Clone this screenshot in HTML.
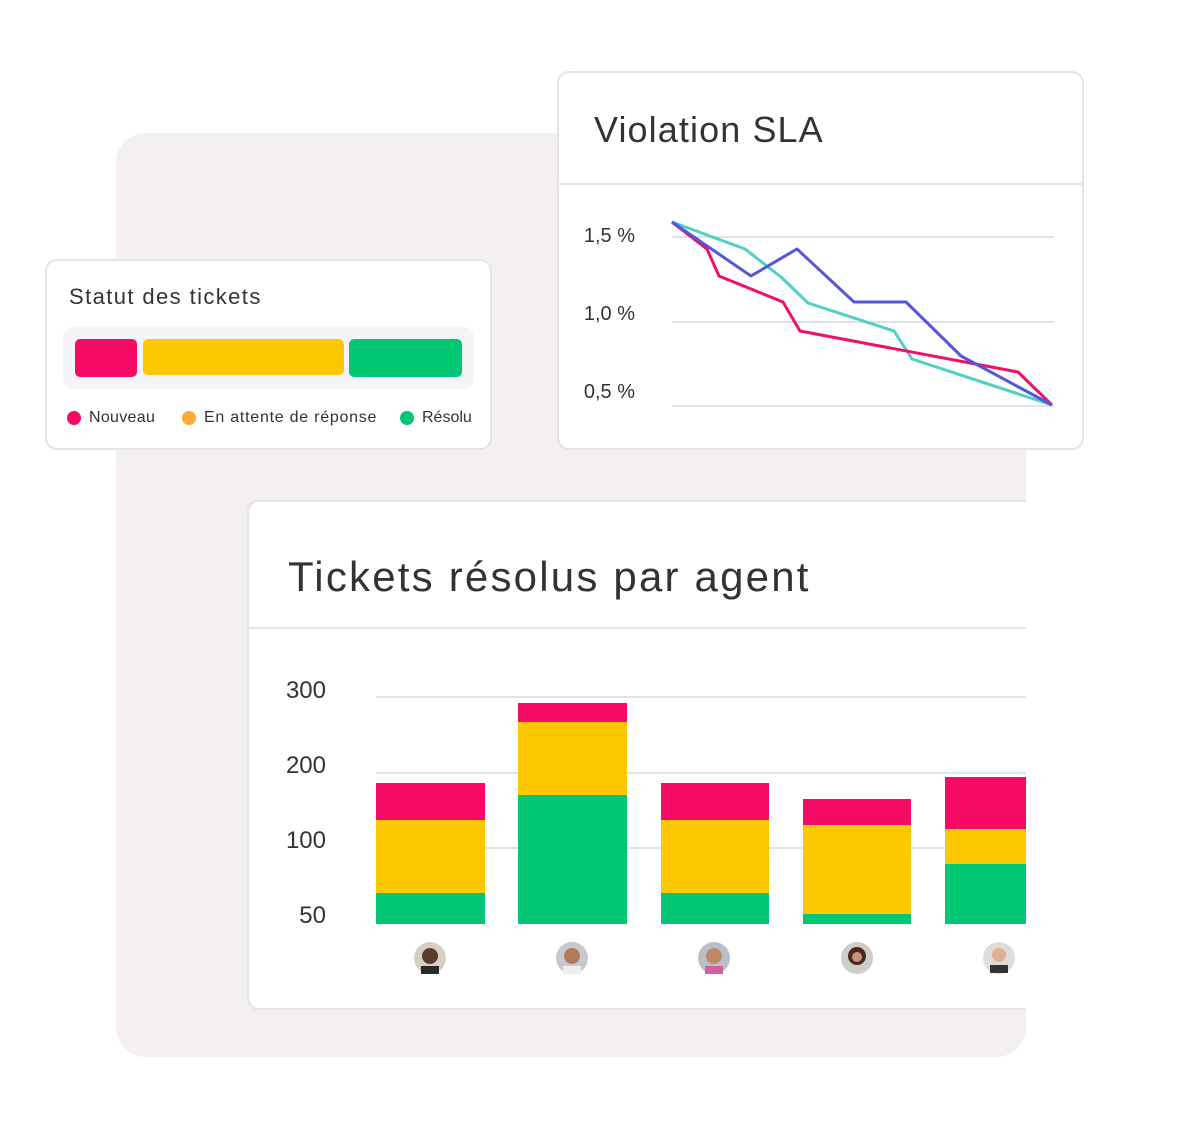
<!DOCTYPE html>
<html><head><style>
body{margin:0;width:1190px;height:1130px;background:#fff;position:relative;font-family:"Liberation Sans",sans-serif;color:#333;overflow:hidden}
.abs{position:absolute}
.card{position:absolute;background:#fff;border:2px solid #e2e3ec;border-radius:12px;box-sizing:border-box}
</style></head><body>
<div class="abs" style="left:116px;top:133px;width:910px;height:924px;background:#f4eff1;border-radius:30px"></div>

<div class="card" style="left:557px;top:71px;width:527px;height:379px">
 <div class="abs" style="left:35px;top:36px;font-size:36px;color:#333;letter-spacing:1.1px">Violation SLA</div>
 <div class="abs" style="left:0;top:110px;width:523px;height:2px;background:#e2e3ec"></div>
</div>
<svg class="abs" style="left:0;top:0" width="1190" height="1130">
 <g stroke="#e0e1ec" stroke-width="2"><line x1="672" y1="237" x2="1054" y2="237"/><line x1="672" y1="322" x2="1054" y2="322"/><line x1="672" y1="406" x2="1054" y2="406"/></g>
 <g font-size="20" fill="#333" text-anchor="end" font-family="Liberation Sans,sans-serif"><text x="635" y="242">1,5 %</text><text x="635" y="320">1,0 %</text><text x="635" y="398">0,5 %</text></g>
 <g fill="none" stroke-width="3" stroke-linejoin="round">
  <polyline stroke="#4fd0c4" points="672,222 745,249 781,277 808,303 894,331 912,359 1052,405"/>
  <polyline stroke="#f0106a" points="672,222 707,249 719,276 783,302 800,331 1018,372 1052,405"/>
  <polyline stroke="#5557d9" points="672,222 751,276 797,249 854,302 906,302 961,356 1052,405"/>
 </g>
</svg>

<div class="card" style="left:45px;top:259px;width:447px;height:191px">
 <div class="abs" style="left:22px;top:23px;font-size:22px;color:#333;letter-spacing:1.4px">Statut des tickets</div>
 <div class="abs" style="left:16px;top:66px;width:411px;height:62px;background:#f5f5f9;border-radius:10px"></div>
 <div class="abs" style="left:28px;top:78px;width:62px;height:38px;background:#f50a66;border-radius:5px"></div>
 <div class="abs" style="left:96px;top:78px;width:201px;height:36px;background:#fec800;border-radius:5px"></div>
 <div class="abs" style="left:302px;top:78px;width:113px;height:38px;background:#02c775;border-radius:5px"></div>
 <div class="abs" style="left:20px;top:150px;width:14px;height:14px;border-radius:50%;background:#f50a66"></div>
 <div class="abs" style="left:42px;top:148px;font-size:16px;letter-spacing:0.3px">Nouveau</div>
 <div class="abs" style="left:135px;top:150px;width:14px;height:14px;border-radius:50%;background:#fda83a"></div>
 <div class="abs" style="left:157px;top:148px;font-size:16px;letter-spacing:0.75px">En attente de réponse</div>
 <div class="abs" style="left:353px;top:150px;width:14px;height:14px;border-radius:50%;background:#02c775"></div>
 <div class="abs" style="left:375px;top:148px;font-size:16px">Résolu</div>
</div>

<div class="abs" style="left:247px;top:500px;width:779px;height:510px;overflow:hidden">
 <div class="card" style="left:0;top:0;width:820px;height:510px"></div>
 <div class="abs" style="left:41px;top:53px;font-size:42px;color:#333;white-space:nowrap;letter-spacing:2.2px">Tickets résolus par agent</div>
 <div class="abs" style="left:2px;top:127px;width:800px;height:2px;background:#e2e3ec"></div>
</div>
<svg class="abs" style="left:0;top:0" width="1190" height="1130">
 <g stroke="#e0e1ec" stroke-width="2"><line x1="376" y1="697" x2="1026" y2="697"/><line x1="376" y1="773" x2="1026" y2="773"/><line x1="376" y1="848" x2="1026" y2="848"/></g>
 <g font-size="24" fill="#333" text-anchor="end" font-family="Liberation Sans,sans-serif"><text x="326" y="698">300</text><text x="326" y="773">200</text><text x="326" y="848">100</text><text x="326" y="923">50</text></g>
 <g>
  <rect x="376" y="783" width="109" height="37" fill="#f50a66"/><rect x="376" y="820" width="109" height="73" fill="#fec800"/><rect x="376" y="893" width="109" height="31" fill="#02c775"/>
  <rect x="518" y="703" width="109" height="19" fill="#f50a66"/><rect x="518" y="722" width="109" height="73" fill="#fec800"/><rect x="518" y="795" width="109" height="129" fill="#02c775"/>
  <rect x="661" y="783" width="108" height="37" fill="#f50a66"/><rect x="661" y="820" width="108" height="73" fill="#fec800"/><rect x="661" y="893" width="108" height="31" fill="#02c775"/>
  <rect x="803" y="799" width="108" height="26" fill="#f50a66"/><rect x="803" y="825" width="108" height="89" fill="#fec800"/><rect x="803" y="914" width="108" height="10" fill="#02c775"/>
  <rect x="945" y="777" width="81" height="52" fill="#f50a66"/><rect x="945" y="829" width="81" height="35" fill="#fec800"/><rect x="945" y="864" width="81" height="60" fill="#02c775"/>
 </g>
 <g>
  <circle cx="430" cy="958" r="16" fill="#d8cfc4"/><circle cx="430" cy="956" r="8" fill="#5a3a28"/><rect x="421" y="966" width="18" height="8" fill="#2a2a2a"/>
  <circle cx="572" cy="958" r="16" fill="#c8c8cc"/><circle cx="572" cy="956" r="8" fill="#b07a5a"/><rect x="563" y="966" width="18" height="8" fill="#eee"/>
  <circle cx="714" cy="958" r="16" fill="#b8c0c8"/><circle cx="714" cy="956" r="8" fill="#c08868"/><rect x="705" y="966" width="18" height="8" fill="#d060a0"/>
  <circle cx="857" cy="958" r="16" fill="#d0ccc8"/><circle cx="857" cy="956" r="9" fill="#4a2a1e"/><circle cx="857" cy="957" r="5" fill="#c89478"/>
  <circle cx="999" cy="958" r="16" fill="#e0dcd8"/><circle cx="999" cy="955" r="7" fill="#e0b090"/><rect x="990" y="965" width="18" height="8" fill="#333"/>
 </g>
</svg>
</body></html>
